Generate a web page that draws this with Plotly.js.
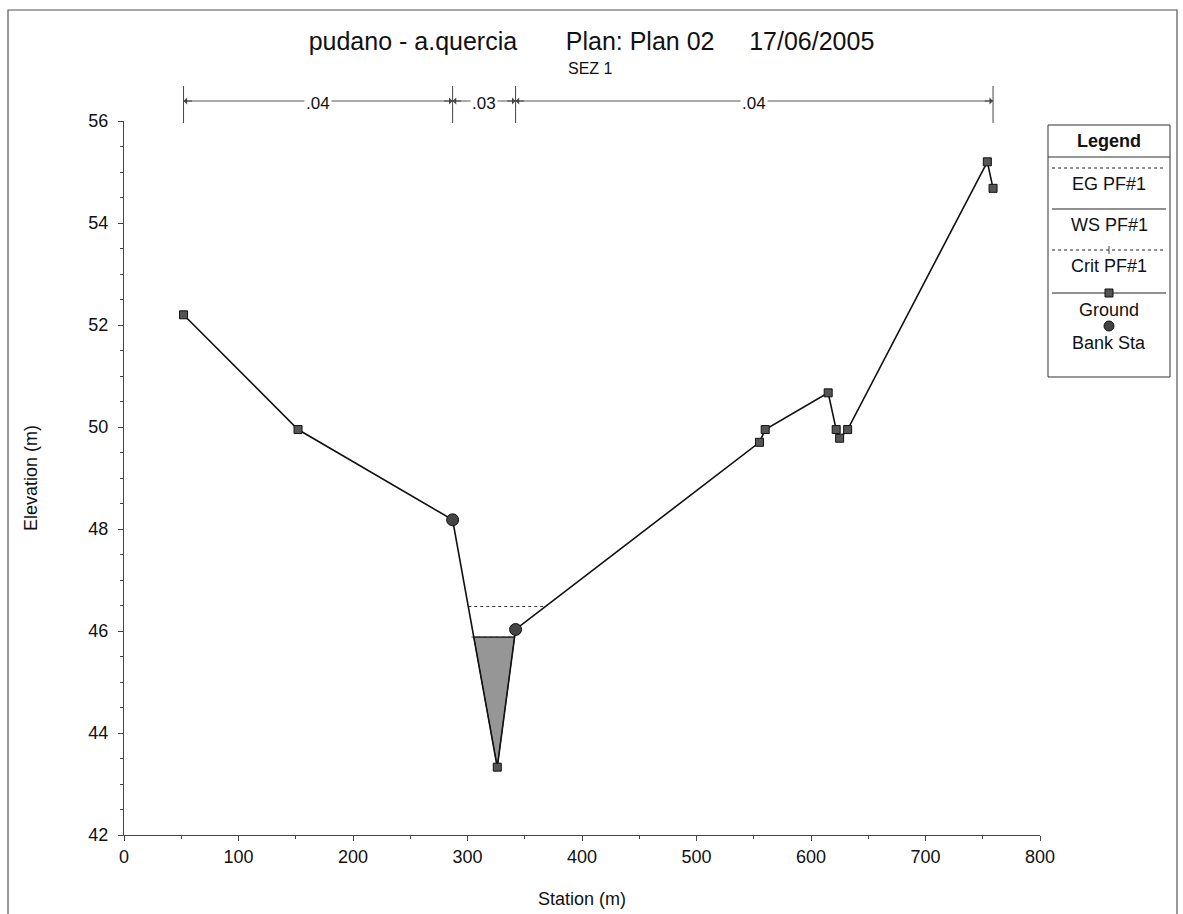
<!DOCTYPE html>
<html>
<head>
<meta charset="utf-8">
<script src="https://cdn.plot.ly/plotly-3.0.1.min.js"></script>
<style>html,body{margin:0;padding:0;background:#fff;}#chart{width:1183px;height:914px;}</style>
</head>
<body>
<div id="chart"></div>
<script>
// ---- data ----
const groundStation = [52, 152, 287, 326, 342, 555, 560, 615, 622, 625, 632, 754, 759];
const groundElev    = [52.2, 49.95, 48.18, 43.33, 46.03, 49.7, 49.95, 50.67, 49.95, 49.78, 49.95, 55.2, 54.68];
const bankStation = [287, 342];
const bankElev    = [48.18, 46.03];
const egElev = 46.48;     // EG PF#1
const wsElev = 45.88;     // WS PF#1
const critElev = 45.88;   // Crit PF#1
const manningBounds = [52, 287, 342, 759];
const manningN = ['.04', '.03', '.04'];
const titleMain = 'pudano - a.quercia';
const titlePlan = 'Plan: Plan 02';
const titleDate = '17/06/2005';
const subTitle = 'SEZ 1';
const legendLabels = ['EG PF#1', 'WS PF#1', 'Crit PF#1', 'Ground', 'Bank Sta'];

// intersections of a level with the ground in the main channel (around lowest point)
function levelSpan(level) {
  let iMin = 0;
  groundElev.forEach((v, i) => { if (v < groundElev[iMin]) iMin = i; });
  let left = null, right = null;
  for (let i = iMin; i > 0; i--) {
    const a = groundElev[i - 1], b = groundElev[i];
    if ((a - level) * (b - level) <= 0) {
      left = groundStation[i - 1] + (a - level) / (a - b) * (groundStation[i] - groundStation[i - 1]);
      break;
    }
  }
  for (let i = iMin; i < groundElev.length - 1; i++) {
    const a = groundElev[i], b = groundElev[i + 1];
    if ((a - level) * (b - level) <= 0) {
      right = groundStation[i] + (level - a) / (b - a) * (groundStation[i + 1] - groundStation[i]);
      break;
    }
  }
  return {left, right, iMin};
}

const ws = levelSpan(wsElev);
const eg = levelSpan(egElev);
const cr = levelSpan(critElev);
// water polygon
const waterX = [ws.left], waterY = [wsElev];
groundStation.forEach((s, i) => { if (s > ws.left && s < ws.right) { waterX.push(s); waterY.push(groundElev[i]); } });
waterX.push(ws.right); waterY.push(wsElev); waterX.push(ws.left); waterY.push(wsElev);

const FONT = 'Liberation Sans, Arial, sans-serif';

const traces = [
  {x: waterX, y: waterY, mode: 'lines', fill: 'toself', fillcolor: 'rgb(150,150,150)',
   line: {color: '#222', width: 1}, hoverinfo: 'skip'},
  {x: [eg.left, eg.right], y: [egElev, egElev], mode: 'lines', line: {color: '#333', width: 1, dash: 'dot'}},
  {x: [cr.left - 2, cr.right], y: [critElev, critElev], mode: 'lines', line: {color: '#444', width: 1, dash: 'dot'}},
  {x: [ws.left, ws.right], y: [wsElev, wsElev], mode: 'lines', line: {color: '#222', width: 1}},
  {x: groundStation, y: groundElev, mode: 'lines+markers', line: {color: '#111', width: 1.6},
   marker: {symbol: 'square', size: 8, color: '#555', line: {color: '#111', width: 1}}},
  {x: bankStation, y: bankElev, mode: 'markers',
   marker: {symbol: 'circle', size: 12, color: '#444', line: {color: '#111', width: 1}}}
];

// pixel -> paper helpers (plot area 124..1040 x, 121..835 y)
const PX = p => (p - 124) / 916;
const PY = p => (835 - p) / 714;

const shapes = [];
const annotations = [];
const ann = (o) => annotations.push(Object.assign({xanchor: 'center', yanchor: 'middle', showarrow: false}, o));

// page border
shapes.push({type: 'rect', xref: 'paper', yref: 'paper', x0: PX(8), x1: PX(1177), y0: PY(930), y1: PY(10),
  line: {color: '#555', width: 1.2}});

// Manning n bars
manningBounds.forEach(s => {
  shapes.push({type: 'line', xref: 'x', yref: 'paper', x0: s, x1: s, y0: PY(123), y1: PY(86), line: {color: '#444', width: 1}});
});
for (let k = 0; k < manningN.length; k++) {
  const a = manningBounds[k], b = manningBounds[k + 1];
  shapes.push({type: 'line', xref: 'x', yref: 'paper', x0: a, x1: b, y0: PY(101), y1: PY(101), line: {color: '#555', width: 1}});
  ann({xref: 'x', yref: 'paper', x: (a + b) / 2, y: PY(103), text: manningN[k],
    bgcolor: '#fff', font: {family: FONT, size: 17, color: '#111'}, borderpad: 1});
  annotations.push({xref: 'x', yref: 'paper', x: a, y: PY(101), ax: 10, ay: 0, axref: 'pixel', ayref: 'pixel',
    text: '', showarrow: true, arrowhead: 1, arrowsize: 1.2, arrowwidth: 1, arrowcolor: '#444', standoff: 0});
  annotations.push({xref: 'x', yref: 'paper', x: b, y: PY(101), ax: -10, ay: 0, axref: 'pixel', ayref: 'pixel',
    text: '', showarrow: true, arrowhead: 1, arrowsize: 1.2, arrowwidth: 1, arrowcolor: '#444', standoff: 0});
}

// subtitle
ann({xref: 'paper', yref: 'paper', x: PX(590), y: PY(68), text: subTitle, font: {family: FONT, size: 16, color: '#111'}});

// legend box
const L0 = 1048, L1 = 1170, LC = (L0 + L1) / 2;
shapes.push({type: 'rect', xref: 'paper', yref: 'paper', x0: PX(L0), x1: PX(L1), y0: PY(377), y1: PY(125),
  line: {color: '#333', width: 1}, fillcolor: 'rgba(0,0,0,0)'});
shapes.push({type: 'line', xref: 'paper', yref: 'paper', x0: PX(L0), x1: PX(L1), y0: PY(157), y1: PY(157),
  line: {color: '#333', width: 1}});
ann({xref: 'paper', yref: 'paper', x: PX(LC), y: PY(141), text: '<b>Legend</b>', font: {family: FONT, size: 18, color: '#111'}});
const symY = [168, 209, 250, 293];
const symDash = ['dot', 'solid', 'dot', 'solid'];
symY.forEach((yy, i) => {
  shapes.push({type: 'line', xref: 'paper', yref: 'paper', x0: PX(L0 + 4), x1: PX(L1 - 4), y0: PY(yy), y1: PY(yy),
    line: {color: '#222', width: 1, dash: symDash[i]}});
});
// crit + mark
shapes.push({type: 'line', xref: 'paper', yref: 'paper', x0: PX(LC), x1: PX(LC), y0: PY(246), y1: PY(254), line: {color: '#444', width: 1}});
// ground marker
shapes.push({type: 'rect', xref: 'paper', yref: 'paper', x0: PX(LC - 4), x1: PX(LC + 4), y0: PY(297), y1: PY(289),
  line: {color: '#111', width: 1}, fillcolor: '#555'});
// bank marker
shapes.push({type: 'circle', xref: 'paper', yref: 'paper', x0: PX(LC - 5), x1: PX(LC + 5), y0: PY(331), y1: PY(321),
  line: {color: '#111', width: 1}, fillcolor: '#444'});
const labY = [184, 225, 266, 310, 343];
legendLabels.forEach((t, i) => {
  ann({xref: 'paper', yref: 'paper', x: PX(LC), y: PY(labY[i]), text: t, font: {family: FONT, size: 18, color: '#111'}});
});

const NB = '\u00a0';
const layout = {
  width: 1183, height: 914,
  margin: {l: 124, r: 143, t: 121, b: 79},
  paper_bgcolor: '#fff', plot_bgcolor: '#fff',
  showlegend: false,
  font: {family: FONT, color: '#111'},
  title: {text: titleMain + NB.repeat(7) + titlePlan + NB.repeat(5) + titleDate,
    x: 0.5, xref: 'container', xanchor: 'center', y: 1 - 41 / 914, yref: 'container', yanchor: 'middle',
    font: {family: FONT, size: 25, color: '#111'}},
  xaxis: {range: [0, 800], dtick: 100, tick0: 0, showgrid: false, zeroline: false,
    showline: true, linecolor: '#444', linewidth: 1, ticks: 'outside', ticklen: 5, tickcolor: '#444',
    minor: {dtick: 50, ticks: 'outside', ticklen: 3, tickcolor: '#444'},
    tickfont: {family: FONT, size: 18, color: '#111'},
    title: {text: 'Station (m)', font: {family: FONT, size: 18, color: '#111'}, standoff: 26}},
  yaxis: {range: [42, 56], dtick: 2, tick0: 42, showgrid: false, zeroline: false,
    showline: true, linecolor: '#444', linewidth: 1, ticks: 'outside', ticklen: 5, tickcolor: '#444',
    minor: {dtick: 0.5, ticks: 'outside', ticklen: 3, tickcolor: '#444'},
    ticklabelstandoff: 6,
    tickfont: {family: FONT, size: 18, color: '#111'},
    title: {text: 'Elevation (m)', font: {family: FONT, size: 18, color: '#111'}, standoff: 46}},
  shapes: shapes,
  annotations: annotations
};

Plotly.newPlot('chart', traces, layout, {displayModeBar: false, staticPlot: true});
</script>
</body>
</html>
